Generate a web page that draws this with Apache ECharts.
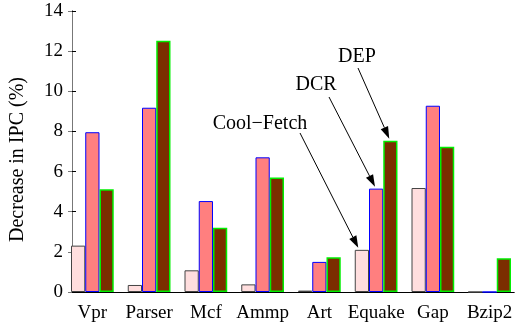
<!DOCTYPE html>
<html>
<head>
<meta charset="utf-8">
<script src="https://cdn.jsdelivr.net/npm/echarts@6/dist/echarts.min.js"></script>
<style>
html,body{margin:0;padding:0;background:#fff;}
#chart{width:518px;height:323px;}
</style>
</head>
<body>
<div id="chart"></div>
<script>
const categories = ['Vpr', 'Parser', 'Mcf', 'Ammp', 'Art', 'Equake', 'Gap', 'Bzip2'];
const coolFetch = [2.31, 0.35, 1.08, 0.38, 0.07, 2.10, 5.18, 0];
const dcr = [7.96, 9.18, 4.53, 6.71, 1.50, 5.15, 9.28, 0];
const dep = [5.12, 12.52, 3.20, 5.70, 1.73, 7.54, 7.24, 1.68];
const yMin = 0, yMax = 14, yStep = 2;
const yName = 'Decrease in IPC (%)';
const annotations = [
  { text: 'Cool\u2212Fetch', series: 0, cat: 5 },
  { text: 'DCR', series: 1, cat: 5 },
  { text: 'DEP', series: 2, cat: 5 }
];

const FONT = 'Liberation Serif';
const chart = echarts.init(document.getElementById('chart'), null, { renderer: 'canvas' });

function barSeries(name, data, fill, border, bw) {
  return {
    name: name, type: 'bar', data: data,
    xAxisIndex: 0, yAxisIndex: 0,
    barGap: '0%', barCategoryGap: '24.7%',
    itemStyle: { color: fill, borderColor: border, borderWidth: bw },
    emphasis: { disabled: true },
    animation: false
  };
}

chart.setOption({
  animation: false,
  grid: [
    { left: 64, top: 11, width: 457, height: 281 },
    { left: 71, top: 11, width: 443, height: 281 }
  ],
  xAxis: [
    { type: 'category', gridIndex: 0, data: categories,
      axisLine: { show: false }, axisTick: { show: false },
      axisLabel: { interval: 0, margin: 12, color: '#000', fontFamily: FONT, fontSize: 19 } },
    { type: 'value', gridIndex: 1, min: 0, max: 1, position: 'bottom',
      axisLine: { show: true, lineStyle: { color: '#000', width: 1 } },
      axisTick: { show: false }, axisLabel: { show: false }, splitLine: { show: false } },
    { type: 'value', gridIndex: 1, min: 0, max: 1, position: 'top',
      axisLine: { show: true, lineStyle: { color: '#000', width: 1 } },
      axisTick: { show: false }, axisLabel: { show: false }, splitLine: { show: false } }
  ],
  yAxis: [
    { type: 'value', gridIndex: 0, min: yMin, max: yMax, interval: yStep, show: false },
    { type: 'value', gridIndex: 1, min: yMin, max: yMax, interval: yStep, position: 'left',
      name: yName, nameLocation: 'middle', nameGap: 44,
      nameTextStyle: { color: '#000', fontFamily: FONT, fontSize: 20, padding: [0, 16, 0, 0] },
      axisLine: { show: true, lineStyle: { color: '#000', width: 1 } },
      axisTick: { show: true, inside: true, length: 4, lineStyle: { color: '#000' } },
      axisLabel: { margin: 9, color: '#000', fontFamily: FONT, fontSize: 19 },
      splitLine: { show: false } },
    { type: 'value', gridIndex: 1, min: yMin, max: yMax, interval: yStep, position: 'right',
      axisLine: { show: true, lineStyle: { color: '#777', width: 1 } },
      axisTick: { show: true, inside: true, length: 4, lineStyle: { color: '#777' } },
      axisLabel: { show: false }, splitLine: { show: false } }
  ],
  series: [
    barSeries('Cool-Fetch', coolFetch, '#ffdede', '#444', 1),
    barSeries('DCR', dcr, '#ff7f7f', '#0000ff', 1),
    barSeries('DEP', dep, '#7b2e00', '#00ee00', 1.5)
  ]
});

// Annotation arrows anchored to the rendered bar tops
const textPos = [[260, 124], [316, 85], [357, 57]];
const startPts = [[300, 133], [329, 97], [358, 68]];
const tipOffset = [3.5, 6, 6];
const graphics = [];
annotations.forEach(function (a, k) {
  const data = chart.getModel().getSeriesByIndex(a.series).getData();
  const lay = data.getItemLayout(a.cat);
  const top = Math.min(lay.y, lay.y + lay.height);
  const left = Math.min(lay.x, lay.x + lay.width);
  const tip = [left + tipOffset[k], top - 2];
  const s = startPts[k];
  const dx = tip[0] - s[0], dy = tip[1] - s[1];
  const len = Math.sqrt(dx * dx + dy * dy);
  const ux = dx / len, uy = dy / len;
  const hl = 12, hw = 4;
  const bx = tip[0] - ux * hl, by = tip[1] - uy * hl;
  graphics.push({
    type: 'text',
    x: textPos[k][0], y: textPos[k][1],
    style: { text: a.text, fill: '#000', font: '20px "' + FONT + '"', align: 'center', verticalAlign: 'middle' },
    z: 100
  });
  graphics.push({
    type: 'line', shape: { x1: s[0], y1: s[1], x2: bx, y2: by },
    style: { stroke: '#000', lineWidth: 1 }, z: 100
  });
  graphics.push({
    type: 'polygon',
    shape: { points: [tip, [bx - uy * hw, by + ux * hw], [bx + uy * hw, by - ux * hw]] },
    style: { fill: '#000' }, z: 100
  });
});
chart.setOption({ graphic: graphics });
</script>
</body>
</html>
